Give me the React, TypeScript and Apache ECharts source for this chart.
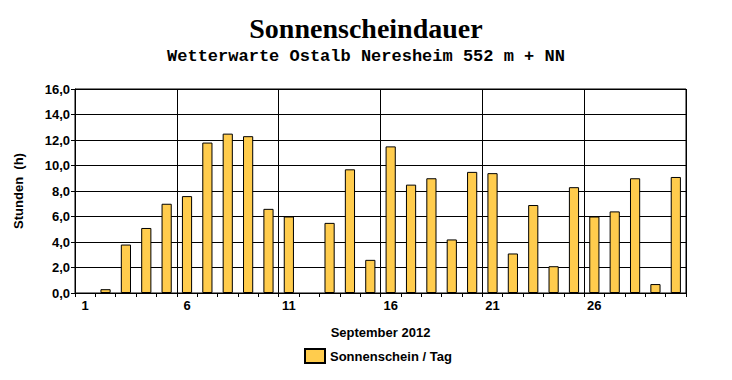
import React, { useEffect, useRef } from "react";
import * as echarts from "echarts";

const days: string[] = Array.from({ length: 30 }, (_, i) => String(i + 1));
const sunshine: number[] = [
  0, 0.3, 3.8, 5.1, 7.0, 7.6, 11.8, 12.5, 12.3, 6.6,
  6.0, 0, 5.5, 9.7, 2.6, 11.5, 8.5, 9.0, 4.2, 9.5,
  9.4, 3.1, 6.9, 2.1, 8.3, 6.0, 6.4, 9.0, 0.7, 9.1,
];
const titleText = "Sonnenscheindauer";
const subtitleText = "Wetterwarte Ostalb Neresheim 552 m + NN";
const seriesName = "Sonnenschein / Tag";
const xName = "September 2012";
const yName = "Stunden  (h)";

export default function App() {
  const ref = useRef<HTMLDivElement>(null);
  useEffect(() => {
    if (!ref.current) return;
    const chart = echarts.init(ref.current, null, { renderer: "svg" });
    const sans = "Liberation Sans, Arial, sans-serif";
    chart.setOption({
      animation: false,
      backgroundColor: "#ffffff",
      title: [
        {
          text: titleText,
          left: "center",
          top: 9,
          textStyle: { fontFamily: "Liberation Serif, Times New Roman, serif", fontWeight: "bold", fontSize: 28, color: "#000" },
        },
        {
          text: subtitleText,
          left: "center",
          top: 43,
          textStyle: { fontFamily: "Liberation Mono, Courier New, monospace", fontWeight: "bold", fontSize: 17, color: "#000" },
        },
      ],
      legend: {
        bottom: 11,
        left: 299,
        icon: "rect",
        itemWidth: 20,
        itemHeight: 14,
        itemGap: 6,
        textStyle: { fontFamily: sans, fontWeight: "bold", fontSize: 13, color: "#000" },
        data: [seriesName],
      },
      grid: {
        left: 75,
        right: 46,
        top: 89,
        bottom: 87,
        show: true,
        borderColor: "#000",
        borderWidth: 1,
      },
      xAxis: {
        type: "category",
        data: days,
        boundaryGap: true,
        name: xName,
        nameLocation: "middle",
        nameGap: 33,
        nameTextStyle: { fontFamily: sans, fontWeight: "bold", fontSize: 13, color: "#000" },
        axisLine: { lineStyle: { color: "#000", width: 1 } },
        axisTick: { show: true, interval: 0, length: 4, inside: false, lineStyle: { color: "#000" } },
        axisLabel: { interval: 4, fontFamily: sans, fontWeight: "bold", fontSize: 13, color: "#000", margin: 6 },
        splitLine: { show: true, interval: 4, lineStyle: { color: "#000", width: 1 } },
      },
      yAxis: {
        type: "value",
        min: 0,
        max: 16,
        interval: 2,
        name: yName,
        nameLocation: "middle",
        nameGap: 50,
        nameTextStyle: { fontFamily: sans, fontWeight: "bold", fontSize: 13, color: "#000" },
        axisLine: { show: true, lineStyle: { color: "#000", width: 1 } },
        axisTick: { show: true, length: 4, lineStyle: { color: "#000" } },
        axisLabel: {
          fontFamily: sans,
          fontWeight: "bold",
          fontSize: 13,
          color: "#000",
          margin: 5,
          formatter: (v: number) => v.toFixed(1).replace(".", ","),
        },
        splitLine: { show: true, lineStyle: { color: "#000", width: 1 } },
      },
      series: [
        {
          name: seriesName,
          type: "bar",
          data: sunshine.map((v) => (v === 0 ? null : v)),
          barWidth: "50%",
          itemStyle: { color: "#FFCC4D", borderColor: "#000", borderWidth: 1 },
        },
      ],
    });
    return () => chart.dispose();
  }, []);
  return <div ref={ref} style={{ width: 732, height: 380, position: "absolute", left: 0, top: 0 }} />;
}
